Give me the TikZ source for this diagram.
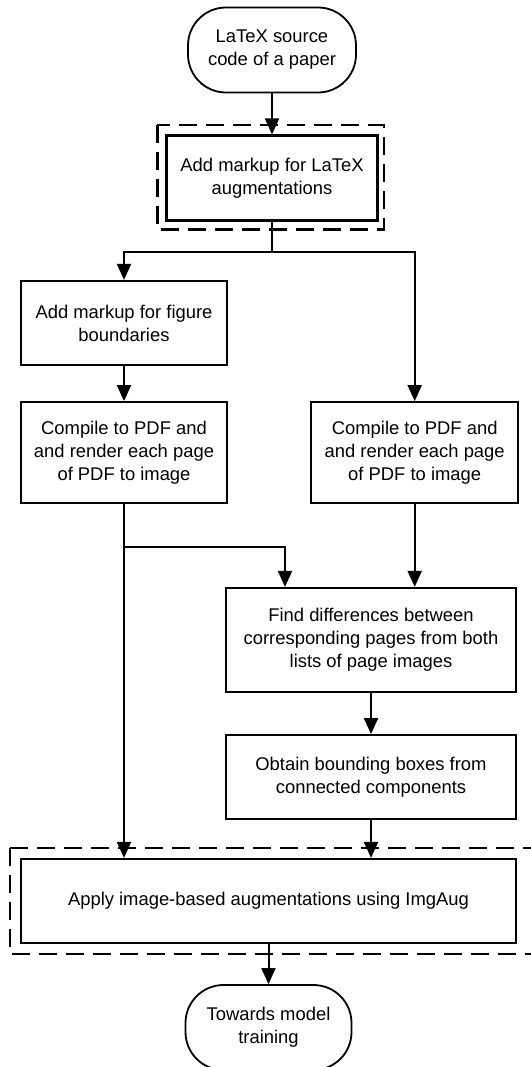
\documentclass[tikz,border=0pt]{standalone}
\usepackage{fontspec}
\setmainfont{Liberation Sans}
\usetikzlibrary{arrows.meta,positioning}

\tikzset{
  box/.style={draw, rectangle, line width=2.2pt, align=center, inner sep=0pt},
  term/.style={draw, rectangle, rounded corners=38pt, line width=1.8pt, align=center,
    inner sep=0pt, minimum width=168pt, minimum height=85pt},
  dashbox/.style={draw, line width=2.2pt, dash pattern=on 18pt off 9pt},
  flow/.style={arrows=-{Triangle[length=16pt,width=14pt]}, line width=2pt}
}

\begin{document}
\begin{tikzpicture}[x=1pt, y=-1pt, font=\fontsize{18.4}{23}\selectfont]
\useasboundingbox (0,0) rectangle (530,1067);
\node (src)[term] at (272,50) {LaTeX source\\code of a paper};
\node (aug)[box, minimum width=211pt, minimum height=85pt] [below=41pt of src] {Add markup for LaTeX\\augmentations};
\node (fig)[box, minimum width=206pt, minimum height=84pt] at (124,323) {Add markup for figure\\boundaries};
\node (cmpl)[box, minimum width=206pt, minimum height=101pt] [below=35pt of fig] {Compile to PDF and\\and render each page\\of PDF to image};
\node (cmpr)[box, minimum width=207pt, minimum height=101pt] [right=82pt of cmpl] {Compile to PDF and\\and render each page\\of PDF to image};
\node (diff)[box, minimum width=290pt, minimum height=104pt] at (371,640) {Find differences between\\corresponding pages from both\\lists of page images};
\node (bbox)[box, minimum width=290pt, minimum height=84pt] [below=41pt of diff] {Obtain bounding boxes from\\connected components};
\node (apply)[box, minimum width=495pt, minimum height=84pt] at (268.5,901) {Apply image-based augmentations using ImgAug};
\node (end)[term, minimum width=166pt] [below=40pt of apply] {Towards model\\training};
% dashed frames
\draw[dashbox] ([shift={(-8pt,9pt)}]aug.north west) rectangle ([shift={(5pt,-8pt)}]aug.south east);
\draw[dashbox] ([shift={(-10pt,10pt)}]apply.north west) rectangle ([shift={(30pt,-10pt)}]apply.south east);
% connectors
\draw[flow] (src) -- (aug);
\draw[flow] (aug.south) -- ++(0,30) -| (fig.north);
\draw[flow] (aug.south) -- ++(0,30) -| (cmpr.north);
\draw[flow] (fig) -- (cmpl);
\draw[flow] (cmpl.south) -- (cmpl.south |- apply.north);
\draw[flow] (cmpl.south) ++(0,43) -| ([xshift=-86pt]diff.north);
\draw[flow] (cmpr.south) -- (cmpr.south |- diff.north);
\draw[flow] (diff) -- (bbox);
\draw[flow] (bbox.south) -- (bbox.south |- apply.north);
\draw[flow] (apply.south) -- (end.north);
\end{tikzpicture}
\end{document}
